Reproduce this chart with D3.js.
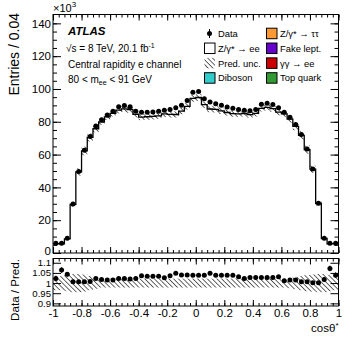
<!DOCTYPE html>
<html lang="en">
<head>
<meta charset="UTF-8">
<title>cos theta* central rapidity e channel</title>
<script src="https://d3js.org/d3.v7.min.js"></script>
<style>
  html, body { margin: 0; padding: 0; background: white; }
  svg { display: block; font-family: 'Liberation Sans', Arial, Helvetica, sans-serif; }
</style>
</head>
<body>
<div class="content"></div>
<script>
// entries per bin (x10^3), 50 bins of width 0.04 in cos(theta*)
const dataCounts = [
  5.9, 6.0, 9.0, 29.8, 49.7, 62.6, 71.0, 77.5, 81.3, 84.2,
  86.4, 89.1, 89.9, 89.1, 86.4, 85.8, 85.8, 86.0, 86.4, 87.0,
  87.5, 88.5, 90.0, 93.0, 98.0, 98.5, 94.0, 92.0, 91.0, 90.0,
  89.0, 88.3, 87.5, 87.0, 86.7, 87.5, 90.7, 91.3, 90.5, 88.5,
  85.8, 82.8, 78.3, 72.2, 63.4, 51.2, 30.4, 9.0, 5.9, 5.9
];
// data / prediction
const dataOverPred = [
  1.023, 1.064, 1.043, 1.006, 1.006, 1.006, 1.008, 1.023, 1.018, 1.015,
  1.015, 1.023, 1.023, 1.020, 1.023, 1.036, 1.033, 1.033, 1.033, 1.026,
  1.036, 1.048, 1.040, 1.040, 1.039, 1.039, 1.039, 1.048, 1.039, 1.039,
  1.039, 1.039, 1.031, 1.023, 1.028, 1.028, 1.028, 1.028, 1.028, 1.031,
  1.011, 1.015, 1.015, 1.006, 1.006, 1.002, 1.002, 1.018, 1.072, 1.039
];
// relative uncertainty of the prediction
const predUnc = [
  0.035, 0.035, 0.040, 0.045, 0.045, 0.042, 0.035, 0.028, 0.022, 0.022,
  0.022, 0.022, 0.022, 0.022, 0.022, 0.022, 0.022, 0.022, 0.022, 0.022,
  0.022, 0.022, 0.022, 0.022, 0.022, 0.022, 0.022, 0.022, 0.022, 0.022,
  0.022, 0.022, 0.022, 0.022, 0.022, 0.022, 0.022, 0.022, 0.022, 0.022,
  0.022, 0.025, 0.030, 0.035, 0.040, 0.042, 0.045, 0.045, 0.040, 0.035
];

const mainYTicks = [0, 20, 40, 60, 80, 100, 120, 140];
const ratioYTicks = [0.9, 0.95, 1, 1.05, 1.1];
const xTicks = [-1, -0.8, -0.6, -0.4, -0.2, 0, 0.2, 0.4, 0.6, 0.8, 1];

const legendLeft = [
  { label: "Data", kind: "data" },
  { label: "Z/γ* → ee", kind: "box", color: "#ffffff" },
  { label: "Pred. unc.", kind: "hatch" },
  { label: "Diboson", kind: "box", color: "#33cccc" }
];
const legendRight = [
  { label: "Z/γ* → ττ", color: "#ff9933" },
  { label: "Fake lept.", color: "#6600cc" },
  { label: "γγ → ee", color: "#cc0000" },
  { label: "Top quark", color: "#339933" }
];

const w = 357;
const h = 344;
const x0 = 53, x1 = 338.5;
const mainTop = 14.5, mainBottom = 253;
const ratTop = 258.5, ratBottom = 306;
const binW = 0.04;

const x = d3.scaleLinear().domain([-1, 1]).range([x0, x1]);
const y = d3.scaleLinear().domain([0, 145.4]).range([mainBottom, mainTop]);
const yr = d3.scaleLinear().domain([0.887, 1.121]).range([ratBottom, ratTop]);

const bins = dataCounts.map((v, i) => ({
  lo: -1 + i * binW,
  hi: -1 + (i + 1) * binW,
  data: v,
  ratio: dataOverPred[i],
  unc: predUnc[i],
  pred: v / dataOverPred[i],
  relStat: 1 / Math.sqrt(v * 1000)
}));

const svg = d3.select(".content")
  .append("svg")
  .attr("width", w)
  .attr("height", h);

const defs = svg.append("defs");
defs.append("pattern")
  .attr("id", "hatch")
  .attr("patternUnits", "userSpaceOnUse")
  .attr("width", 3.4)
  .attr("height", 3.4)
  .attr("patternTransform", "rotate(-45)")
  .append("line")
  .attr("x1", 0).attr("y1", 0).attr("x2", 0).attr("y2", 3.4)
  .attr("stroke", "#000")
  .attr("stroke-width", 1.2);

defs.append("clipPath").attr("id", "clipMain")
  .append("rect").attr("x", x0).attr("y", mainTop).attr("width", x1 - x0).attr("height", mainBottom - mainTop);
defs.append("clipPath").attr("id", "clipRat")
  .append("rect").attr("x", x0).attr("y", ratTop).attr("width", x1 - x0).attr("height", ratBottom - ratTop);

// ---------- main panel ----------
const main = svg.append("g").attr("clip-path", "url(#clipMain)");

const stepPts = bins.map(b => [b.lo, b.pred]).concat([[1, bins[bins.length - 1].pred]]);
const stepLine = d3.line().x(d => x(d[0])).y(d => y(d[1])).curve(d3.curveStepAfter);
const stepArea = d3.area().x(d => x(d[0])).y0(y(0)).y1(d => y(d[1])).curve(d3.curveStepAfter);

main.append("path").attr("d", stepArea(stepPts)).attr("fill", "#fff");

main.selectAll("rect.band")
  .data(bins)
  .enter()
  .append("rect")
  .attr("class", "band")
  .attr("x", d => x(d.lo))
  .attr("width", d => x(d.hi) - x(d.lo))
  .attr("y", d => y(d.pred * (1 + d.unc)))
  .attr("height", d => y(d.pred * (1 - d.unc)) - y(d.pred * (1 + d.unc)))
  .attr("fill", "url(#hatch)");

main.append("path").attr("d", stepLine(stepPts))
  .attr("fill", "none").attr("stroke", "#000").attr("stroke-width", 1.3);

main.selectAll("line.err")
  .data(bins)
  .enter()
  .append("line")
  .attr("x1", d => x((d.lo + d.hi) / 2)).attr("x2", d => x((d.lo + d.hi) / 2))
  .attr("y1", d => y(d.data * (1 + d.relStat))).attr("y2", d => y(d.data * (1 - d.relStat)))
  .attr("stroke", "#000").attr("stroke-width", 1);

main.selectAll("circle.pt")
  .data(bins)
  .enter()
  .append("circle")
  .attr("cx", d => x((d.lo + d.hi) / 2))
  .attr("cy", d => y(d.data))
  .attr("r", 2.5)
  .attr("fill", "#000");

// ---------- ratio panel ----------
const rat = svg.append("g").attr("clip-path", "url(#clipRat)");

rat.selectAll("rect.band")
  .data(bins)
  .enter()
  .append("rect")
  .attr("x", d => x(d.lo))
  .attr("width", d => x(d.hi) - x(d.lo))
  .attr("y", d => yr(1 + d.unc))
  .attr("height", d => yr(1 - d.unc) - yr(1 + d.unc))
  .attr("fill", "url(#hatch)");

rat.selectAll("line.err")
  .data(bins)
  .enter()
  .append("line")
  .attr("x1", d => x((d.lo + d.hi) / 2)).attr("x2", d => x((d.lo + d.hi) / 2))
  .attr("y1", d => yr(d.ratio * (1 + d.relStat))).attr("y2", d => yr(d.ratio * (1 - d.relStat)))
  .attr("stroke", "#000").attr("stroke-width", 1);

rat.selectAll("circle")
  .data(bins)
  .enter()
  .append("circle")
  .attr("cx", d => x((d.lo + d.hi) / 2))
  .attr("cy", d => yr(d.ratio))
  .attr("r", 2.5)
  .attr("fill", "#000");

// ---------- axes ----------
const minorX = d3.range(-1, 1.0001, 0.04).map(v => +v.toFixed(2));
const minorY = d3.range(0, 145, 5);
const fmt = d => String(+d.toFixed(2));

function styleAxis(g) {
  g.select(".domain").remove();
  g.selectAll("line").attr("stroke", "#000").attr("stroke-width", 1);
  g.selectAll("text").attr("font-family", "'Liberation Sans', Arial, sans-serif").attr("fill", "#000");
}

function addAxis(axis, tx, ty, cls) {
  return svg.append("g").attr("class", cls || "ax").attr("transform", `translate(${tx},${ty})`).call(axis).call(styleAxis);
}

// main panel y
addAxis(d3.axisLeft(y).tickValues(mainYTicks).tickSizeInner(-8).tickSizeOuter(0).tickPadding(2).tickFormat(d3.format("d")), x0, 0, "ymain");
addAxis(d3.axisLeft(y).tickValues(minorY).tickSizeInner(-4).tickSizeOuter(0).tickFormat(""), x0, 0);
addAxis(d3.axisRight(y).tickValues(mainYTicks).tickSizeInner(-8).tickSizeOuter(0).tickFormat(""), x1, 0);
addAxis(d3.axisRight(y).tickValues(minorY).tickSizeInner(-4).tickSizeOuter(0).tickFormat(""), x1, 0);
// main panel x
addAxis(d3.axisTop(x).tickValues(xTicks).tickSizeInner(-6).tickSizeOuter(0).tickFormat(""), 0, mainTop);
addAxis(d3.axisTop(x).tickValues(minorX).tickSizeInner(-3).tickSizeOuter(0).tickFormat(""), 0, mainTop);
addAxis(d3.axisBottom(x).tickValues(xTicks).tickSizeInner(-6).tickSizeOuter(0).tickFormat(""), 0, mainBottom);
addAxis(d3.axisBottom(x).tickValues(minorX).tickSizeInner(-3).tickSizeOuter(0).tickFormat(""), 0, mainBottom);

// ratio panel
addAxis(d3.axisLeft(yr).tickValues(ratioYTicks).tickSizeInner(-8).tickSizeOuter(0).tickPadding(2).tickFormat(fmt), x0, 0, "yrat");
addAxis(d3.axisRight(yr).tickValues(ratioYTicks).tickSizeInner(-8).tickSizeOuter(0).tickFormat(""), x1, 0);
addAxis(d3.axisTop(x).tickValues(xTicks).tickSizeInner(-6).tickSizeOuter(0).tickFormat(""), 0, ratTop);
addAxis(d3.axisTop(x).tickValues(minorX).tickSizeInner(-3).tickSizeOuter(0).tickFormat(""), 0, ratTop);
addAxis(d3.axisBottom(x).tickValues(xTicks).tickSizeInner(-6).tickSizeOuter(0).tickPadding(3).tickFormat(fmt), 0, ratBottom, "xrat");
addAxis(d3.axisBottom(x).tickValues(minorX).tickSizeInner(-3).tickSizeOuter(0).tickFormat(""), 0, ratBottom);

svg.selectAll("g.ymain text").attr("font-size", "11.5px");
// the "0" label sits right above the ratio panel; lift it a little
svg.selectAll("g.ymain g.tick").filter(d => d === 0).select("text").attr("y", -2.5);
svg.selectAll("g.xrat text").attr("font-size", "11.5px");
svg.selectAll("g.yrat text").attr("font-size", "9.6px");

// frames
svg.append("rect").attr("x", x0).attr("y", mainTop).attr("width", x1 - x0).attr("height", mainBottom - mainTop)
  .attr("fill", "none").attr("stroke", "#000").attr("stroke-width", 1);
svg.append("rect").attr("x", x0).attr("y", ratTop).attr("width", x1 - x0).attr("height", ratBottom - ratTop)
  .attr("fill", "none").attr("stroke", "#000").attr("stroke-width", 1);

// ---------- titles ----------
svg.append("text")
  .attr("transform", "translate(19,13) rotate(-90)")
  .attr("text-anchor", "end")
  .attr("font-size", "14px")
  .text("Entries / 0.04");

svg.append("text")
  .attr("transform", "translate(19,259) rotate(-90)")
  .attr("text-anchor", "end")
  .attr("font-size", "11.6px")
  .text("Data / Pred.");

const xt = svg.append("text")
  .attr("x", x1).attr("y", 332)
  .attr("text-anchor", "end")
  .attr("font-size", "11.5px")
  .text("cosθ");
xt.append("tspan").attr("font-size", "8px").attr("dy", -4).text("*");

const mult = svg.append("text").attr("x", 53).attr("y", 12).attr("font-size", "11px").text("×10");
mult.append("tspan").attr("font-size", "8px").attr("dy", -5).text("3");

svg.append("text")
  .attr("x", 68).attr("y", 35)
  .attr("font-size", "11.5px").attr("font-weight", "bold").attr("font-style", "italic")
  .text("ATLAS");

const sq = svg.append("text").attr("x", 66).attr("y", 51.5).attr("font-size", "10px").text("√s = 8 TeV, 20.1 fb");
sq.append("tspan").attr("font-size", "7px").attr("dy", -4).text("-1");

svg.append("text").attr("x", 68).attr("y", 67.5).attr("font-size", "10px").text("Central rapidity e channel");

const mt = svg.append("text").attr("x", 68).attr("y", 83).attr("font-size", "10px").text("80 < m");
mt.append("tspan").attr("font-size", "7px").attr("dy", 2).text("ee");
mt.append("tspan").attr("dy", -2).text(" < 91 GeV");

// ---------- legend ----------
const rowY = d3.scalePoint().domain(d3.range(4)).range([33.5, 78]);
const legFont = "9.4px";

legendLeft.forEach((d, i) => {
  const cy = rowY(i);
  if (d.kind === "data") {
    svg.append("line").attr("x1", 209.5).attr("x2", 209.5).attr("y1", cy - 4.5).attr("y2", cy + 4.5)
      .attr("stroke", "#000").attr("stroke-width", 1);
    svg.append("circle").attr("cx", 209.5).attr("cy", cy).attr("r", 2.5).attr("fill", "#000");
  } else {
    svg.append("rect").attr("x", 204.5).attr("y", cy - 5.3).attr("width", 10.5).attr("height", 10.5)
      .attr("fill", d.kind === "hatch" ? "url(#hatch)" : d.color)
      .attr("stroke", d.kind === "hatch" ? "none" : "#000").attr("stroke-width", 1);
  }
  svg.append("text").attr("x", 218).attr("y", cy + 3.4).attr("font-size", legFont).text(d.label);
});

legendRight.forEach((d, i) => {
  const cy = rowY(i);
  svg.append("rect").attr("x", 266.5).attr("y", cy - 5.3).attr("width", 10.5).attr("height", 10.5)
    .attr("fill", d.color).attr("stroke", "#000").attr("stroke-width", 1);
  svg.append("text").attr("x", 280).attr("y", cy + 3.4).attr("font-size", legFont).text(d.label);
});
</script>
</body>
</html>
